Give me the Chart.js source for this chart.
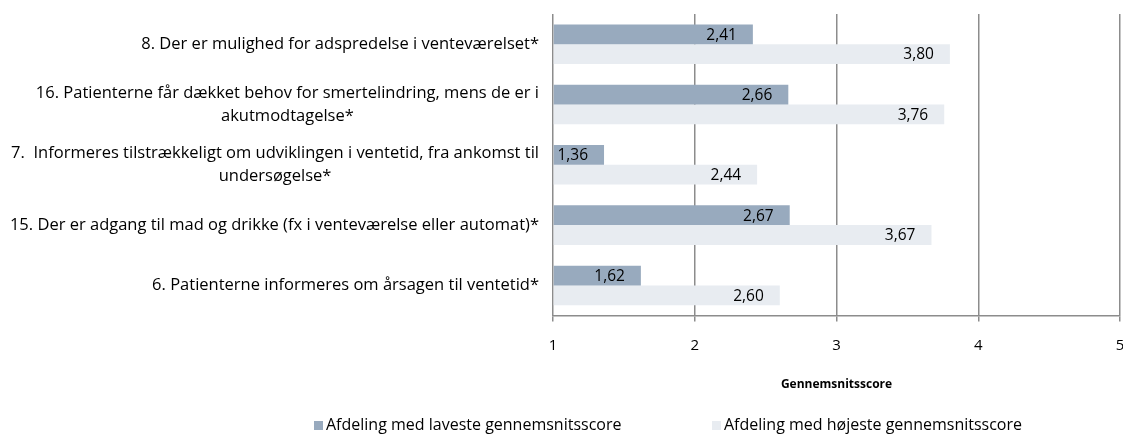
<!DOCTYPE html>
<html>
<head>
<meta charset="utf-8">
<script src="https://cdn.jsdelivr.net/npm/chart.js@4"></script>
<style>
  html, body { margin: 0; padding: 0; background: #fff; }
</style>
</head>
<body>
<canvas id="myChart" width="1123" height="438"></canvas>
<script>
var questions = [
	["8. Der er mulighed for adspredelse i venteværelset*"],
	["16. Patienterne får dækket behov for smertelindring, mens de er i", "akutmodtagelse*"],
	["7.  Informeres tilstrækkeligt om udviklingen i ventetid, fra ankomst til", "undersøgelse*"],
	["15. Der er adgang til mad og drikke (fx i venteværelse eller automat)*"],
	["6. Patienterne informeres om årsagen til ventetid*"]
];
var lowest = [2.41, 2.66, 1.36, 2.67, 1.62];
var highest = [3.80, 3.76, 2.44, 3.67, 2.60];
var seriesNames = ["Afdeling med laveste gennemsnitsscore", "Afdeling med højeste gennemsnitsscore"];
var seriesColors = ['rgb(152,170,190)', 'rgb(232,236,241)'];
var scoreMin = 1, scoreMax = 5;

var fontFamily = '"Open Sans", sans-serif';
Chart.defaults.font.family = fontFamily;
Chart.defaults.color = '#000';

// question text, right aligned block with lines centred (like Excel)
var questionLabels = {
	id: 'questionLabels',
	afterDraw: function(chart) {
		var ctx = chart.ctx;
		var yScale = chart.scales.y;
		ctx.save();
		ctx.font = '16.5px ' + fontFamily;
		ctx.fillStyle = '#000';
		ctx.textAlign = 'center';
		ctx.textBaseline = 'middle';
		chart.data.labels.forEach(function(lines, i) {
			var w = Math.max.apply(null, lines.map(function(l) { return ctx.measureText(l).width; }));
			var cx = 539 - w / 2;
			var cy = yScale.getPixelForValue(i);
			lines.forEach(function(line, j) {
				ctx.fillText(line, cx, cy + (j - (lines.length - 1) / 2) * 23);
			});
		});
		ctx.restore();
	}
};

// value labels at the inside end of each bar
var valueLabels = {
	id: 'valueLabels',
	afterDatasetsDraw: function(chart) {
		var ctx = chart.ctx;
		ctx.save();
		ctx.font = '15.5px ' + fontFamily;
		ctx.fillStyle = '#000';
		ctx.textAlign = 'right';
		ctx.textBaseline = 'middle';
		chart.data.datasets.forEach(function(ds, di) {
			chart.getDatasetMeta(di).data.forEach(function(bar, i) {
				ctx.fillText(ds.data[i].toFixed(2).replace('.', ','), bar.x - 16, bar.y + 1);
			});
		});
		ctx.restore();
	}
};

// legend below the axis title
var legendX = [314, 712];
var bottomLegend = {
	id: 'bottomLegend',
	afterDraw: function(chart) {
		var ctx = chart.ctx;
		ctx.save();
		ctx.font = '16px ' + fontFamily;
		ctx.textBaseline = 'middle';
		ctx.textAlign = 'left';
		var y = 425;
		chart.data.datasets.forEach(function(ds, i) {
			ctx.fillStyle = ds.backgroundColor;
			ctx.fillRect(legendX[i], y - 4, 9, 9);
			ctx.fillStyle = '#000';
			ctx.fillText(ds.label, legendX[i] + 12, y);
		});
		ctx.restore();
	}
};

var ctx = document.getElementById('myChart').getContext('2d');
var chart = new Chart(ctx, {
	type: 'bar',
	data: {
		labels: questions,
		datasets: [{
			label: seriesNames[0],
			backgroundColor: seriesColors[0],
			data: lowest,
			base: scoreMin
		}, {
			label: seriesNames[1],
			backgroundColor: seriesColors[1],
			data: highest,
			base: scoreMin
		}]
	},
	options: {
		indexAxis: 'y',
		responsive: false,
		animation: false,
		categoryPercentage: 0.656,
		barPercentage: 1.0,
		layout: { padding: { top: 14, right: 3, bottom: 42, left: 0 } },
		scales: {
			x: {
				min: scoreMin,
				max: scoreMax,
				ticks: { stepSize: 1, padding: 15, font: { size: 15 }, color: '#000' },
				grid: { color: '#8c8c8c', lineWidth: 1.5, tickLength: 6 },
				border: { color: '#8c8c8c', width: 1.5 },
				title: {
					display: true,
					text: 'Gennemsnitsscore',
					font: { size: 12, weight: 'bold' },
					color: '#000',
					padding: { top: 8, bottom: 4 }
				},
				afterFit: function(scale) { scale.paddingRight = 0; }
			},
			y: {
				ticks: { display: false },
				grid: { display: false },
				border: { display: false },
				afterFit: function(scale) { scale.width = 553; }
			}
		},
		plugins: {
			legend: { display: false },
			tooltip: { enabled: false }
		}
	},
	plugins: [questionLabels, valueLabels, bottomLegend]
});
</script>
</body>
</html>
